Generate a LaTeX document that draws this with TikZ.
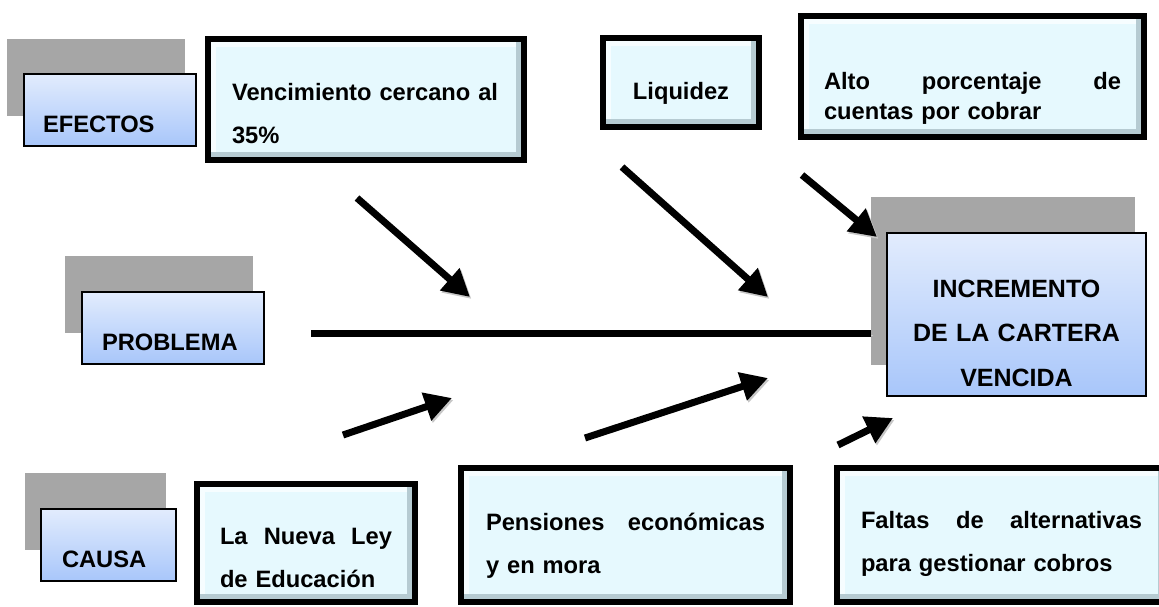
\documentclass[tikz,border=0pt]{standalone}
\usepackage{fontspec}
\setmainfont{Liberation Sans}
\usetikzlibrary{arrows.meta}

\definecolor{boxfill}{HTML}{E6F9FE}
\definecolor{bevellow}{HTML}{B6CBD2}
\definecolor{bevelhigh}{HTML}{F6FDFF}
\definecolor{headtop}{HTML}{E2ECFD}
\definecolor{headbottom}{HTML}{A8C6FA}
\definecolor{backgray}{HTML}{A6A6A6}

\tikzstyle{backbox}=[fill=backgray, inner sep=0pt, outer sep=0pt, anchor=north west]
\tikzstyle{headbox}=[draw=black, line width=2pt, top color=headtop, bottom color=headbottom, anchor=north west, inner ysep=0pt, outer sep=0pt, align=left, font=\fontsize{23.7}{28}\selectfont\bfseries, text height=58pt, text depth=14pt]
\tikzstyle{notebox}=[draw=black, line width=6pt, fill=boxfill, anchor=north west, inner ysep=0pt, outer sep=0pt, align=left, font=\fontsize{23.7}{43}\selectfont\bfseries,
  path picture={
    \draw[line width=16pt, bevelhigh] (path picture bounding box.south west) |- (path picture bounding box.north east);
    \draw[line width=16pt, bevellow] (path picture bounding box.south west) -| (path picture bounding box.north east);
  }]
\tikzstyle{arrow}=[line width=7pt, -{Triangle[length=27pt,width=28pt]}, preaction={draw=black!22, transform canvas={xshift=1.5pt, yshift=-2pt}}]
\tikzstyle{spine}=[line width=7pt, preaction={draw=black!22, transform canvas={xshift=1.5pt, yshift=-2pt}}]

\begin{document}
\begin{tikzpicture}[x=1pt, y=1pt]
  \useasboundingbox (0,0) rectangle (1159,-606);

  \node[backbox, minimum width=178pt, minimum height=77pt] (efgray) at (7,-39) {};
  \node[headbox, text width=134pt, inner xsep=19pt] (efectos) at (24,-74) {EFECTOS};
  \node[notebox, text width=268pt, inner xsep=24pt, text height=61pt, text depth=60pt] (venc) at (208,-39) {Vencimiento cercano al\\35\%};
  \node[notebox, text width=136pt, inner xsep=10pt, text height=61pt, text depth=28pt, align=center] (liq) at (603,-38) {Liquidez};
  \node[notebox, text width=297pt, inner xsep=23pt, text height=73pt, text depth=48pt, font=\fontsize{23.7}{30}\selectfont\bfseries] (alto) at (801,-16) {Alto\hfill porcentaje\hfill de\\cuentas por cobrar};

  \node[backbox, minimum width=188pt, minimum height=77pt] (prgray) at (65,-256) {};
  \node[headbox, text width=142pt, inner xsep=20pt] (problema) at (82,-292) {PROBLEMA};
  \node[backbox, minimum width=264pt, minimum height=168pt] (incgray) at (871,-197) {};
  \node[headbox, text width=239pt, inner xsep=10pt, text height=64pt, text depth=99pt, align=center, font=\fontsize{25}{44.5}\selectfont\bfseries] (incremento) at (887,-233) {INCREMENTO\\DE LA CARTERA\\VENCIDA};

  \node[backbox, minimum width=141pt, minimum height=77pt] (cagray) at (25,-473) {};
  \node[headbox, text width=93pt, inner xsep=21pt] (causa) at (41,-509) {CAUSA};
  \node[notebox, text width=172pt, inner xsep=23pt, text height=60pt, text depth=58pt] (ley) at (197,-484) {La\hfill Nueva\hfill Ley\\de Educación};
  \node[notebox, text width=279pt, inner xsep=25pt, text height=62pt, text depth=72pt] (pens) at (461,-468) {Pensiones\hfill económicas\\y en mora};
  \node[notebox, text width=281pt, inner xsep=24pt, text height=60pt, text depth=74pt] (falt) at (837,-468) {Faltas\hfill de\hfill alternativas\\para gestionar cobros};

  \coordinate (spine) at (311,-333);
  \coordinate (e1) at (357,-198);
  \coordinate (e1h) at (470,-297);
  \coordinate (e2) at (622,-167);
  \coordinate (e2h) at (768,-297);
  \coordinate (e3) at (802,-175);
  \coordinate (e3h) at (877,-237);
  \coordinate (c1) at (343,-435);
  \coordinate (c1h) at (452,-398);
  \coordinate (c2) at (585,-438);
  \coordinate (c2h) at (768,-378);
  \coordinate (c3) at (838,-445);
  \coordinate (c3h) at (893,-418);

  \draw[spine] (spine) -- (spine -| incgray.west);
  \draw[arrow] (e1) -- (e1h);
  \draw[arrow] (e2) -- (e2h);
  \draw[arrow] (e3) -- (e3h);
  \draw[arrow] (c1) -- (c1h);
  \draw[arrow] (c2) -- (c2h);
  \draw[arrow] (c3) -- (c3h);
\end{tikzpicture}
\end{document}
